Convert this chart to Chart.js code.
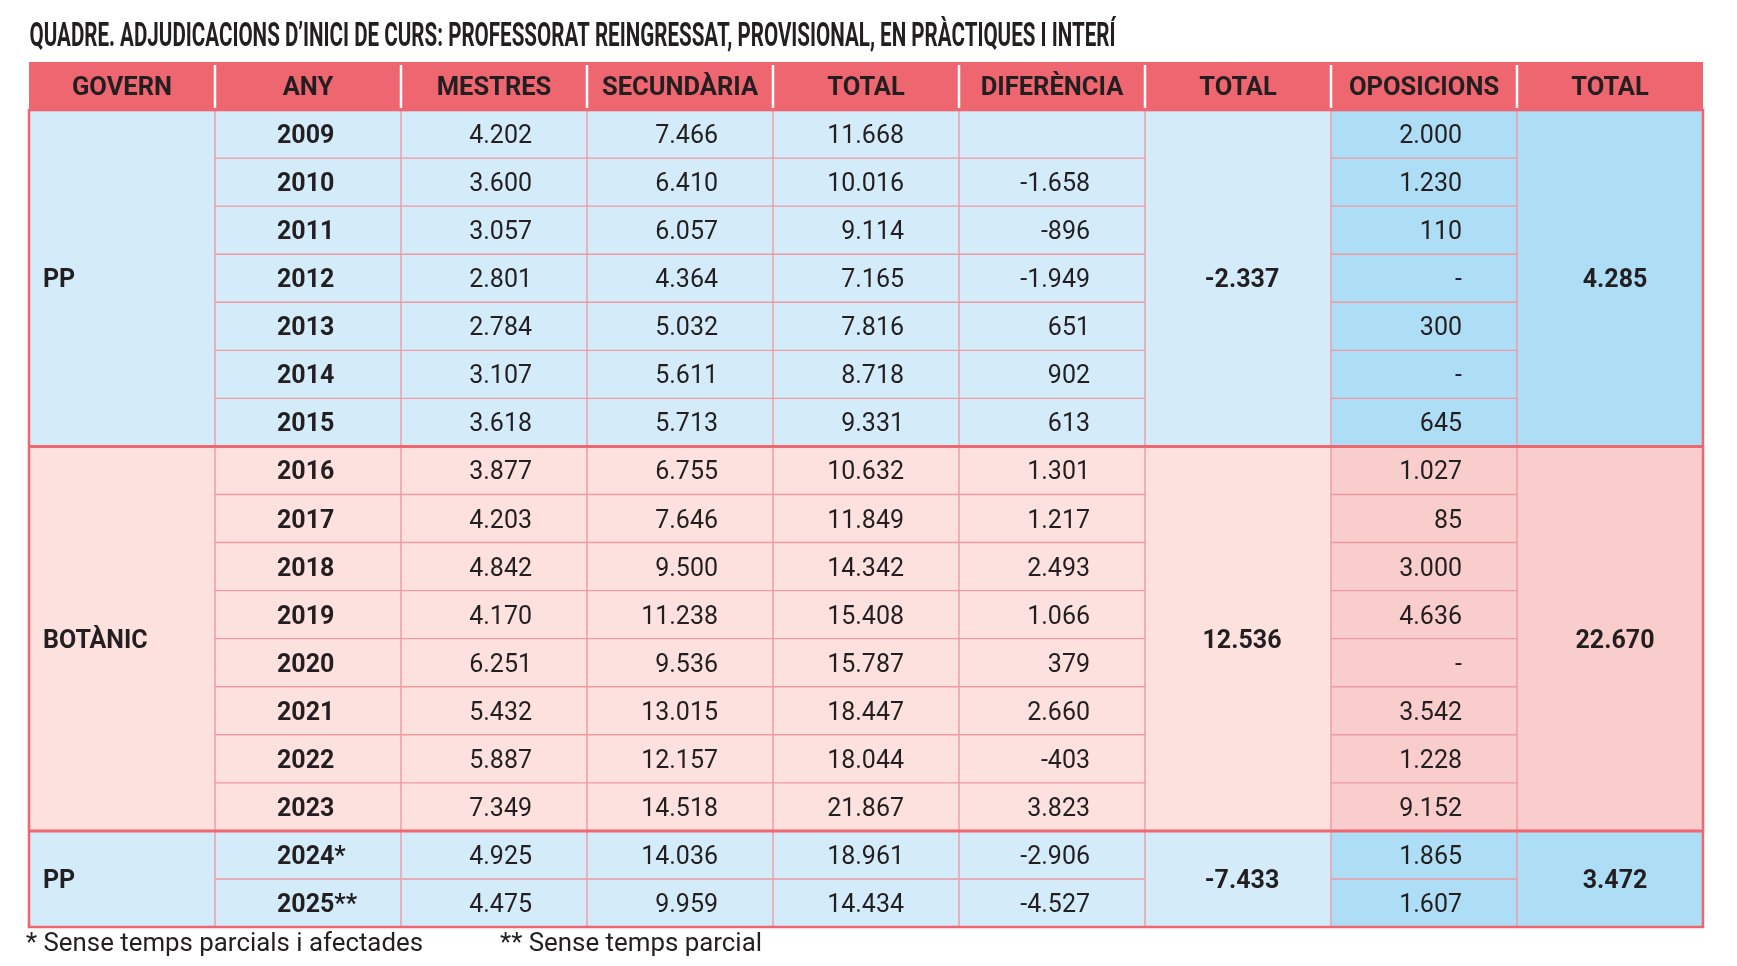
<!DOCTYPE html>
<html><head><meta charset="utf-8">
<script src="https://cdn.jsdelivr.net/npm/chart.js@4.4.1/dist/chart.umd.min.js"></script>
<style>html,body{margin:0;padding:0;background:#fff;}canvas{display:block}</style>
</head><body>
<canvas id="c" width="1737" height="966" style="width:1737px;height:966px"></canvas>
<script>
const titleText = 'QUADRE. ADJUDICACIONS D\u2019INICI DE CURS: PROFESSORAT REINGRESSAT, PROVISIONAL, EN PRÀCTIQUES I INTERÍ';
const headers = ['GOVERN','ANY','MESTRES','SECUNDÀRIA','TOTAL','DIFERÈNCIA','TOTAL','OPOSICIONS','TOTAL'];
const years = ['2009','2010','2011','2012','2013','2014','2015','2016','2017','2018','2019','2020','2021','2022','2023','2024*','2025**'];
const mestres = [4202,3600,3057,2801,2784,3107,3618,3877,4203,4842,4170,6251,5432,5887,7349,4925,4475];
const secundaria = [7466,6410,6057,4364,5032,5611,5713,6755,7646,9500,11238,9536,13015,12157,14518,14036,9959];
const totals = [11668,10016,9114,7165,7816,8718,9331,10632,11849,14342,15408,15787,18447,18044,21867,18961,14434];
const diferencia = [null,-1658,-896,-1949,651,902,613,1301,1217,2493,1066,379,2660,-403,3823,-2906,-4527];
const oposicions = [2000,1230,110,null,300,null,645,1027,85,3000,4636,null,3542,1228,9152,1865,1607];
const governs = ['PP','BOTÀNIC','PP'];
const governSpans = [7,8,2];
const governDiffTotals = [-2337,12536,-7433];
const governOposTotals = [4285,22670,3472];
const footnotes = ['* Sense temps parcials i afectades','** Sense temps parcial'];

const fmt = (v, empty) => {
  if (v === null || v === undefined) return empty;
  const s = Math.abs(v).toString().replace(/\B(?=(\d{3})+(?!\d))/g, '.');
  return (v < 0 ? '-' : '') + s;
};

const C = {
  header: '#EE6670', text: '#231F20',
  blue: '#D4EBFA', blueDark: '#AEDDF6',
  pink: '#FCE1DE', pinkDark: '#F9CDCB',
  thin: '#EE9AA2', thick: '#EE6670'
};
const groupFill = [[C.blue, C.blueDark],[C.pink, C.pinkDark],[C.blue, C.blueDark]];
const FONT = 'Roboto, "Noto Sans", sans-serif';

function fitText(ctx, txt, x, y, targetW) {
  const w = ctx.measureText(txt).width;
  const s = targetW / w;
  ctx.save(); ctx.translate(x, y); ctx.scale(s, 1); ctx.fillText(txt, 0, 0); ctx.restore();
}

const tablePlugin = {
  id: 'table',
  beforeDatasetsDraw(chart) {
    const ctx = chart.ctx;
    const xs = chart.scales.x, ys = chart.scales.y;
    const X = c => xs.getPixelForValue(c);
    const Y = r => ys.getPixelForValue(r);
    const nCols = headers.length, nRows = years.length;
    ctx.save();
    // title
    ctx.fillStyle = C.text; ctx.textAlign = 'left'; ctx.textBaseline = 'alphabetic';
    ctx.font = 'bold 32.5px ' + FONT;
    fitText(ctx, titleText, X(0) + 0.5, 45.5, 1086);
    // header
    ctx.fillStyle = C.header;
    ctx.fillRect(X(0), Y(0), X(nCols) - X(0), Y(1) - Y(0));
    ctx.fillStyle = C.text; ctx.textAlign = 'center';
    ctx.font = 'bold 25.5px ' + FONT;
    const hMid = (Y(0) + Y(1)) / 2;
    headers.forEach((h, i) => ctx.fillText(h, (X(i) + X(i + 1)) / 2, hMid + 9));
    ctx.strokeStyle = '#FFFFFF'; ctx.lineWidth = 2.5;
    for (let i = 1; i < nCols; i++) {
      ctx.beginPath(); ctx.moveTo(X(i), Y(0) + 3); ctx.lineTo(X(i), Y(1) - 2); ctx.stroke();
    }
    // groups fills
    let r0 = 1;
    const groupStarts = [];
    governSpans.forEach((span, g) => {
      groupStarts.push(r0);
      ctx.fillStyle = groupFill[g][0];
      ctx.fillRect(X(0), Y(r0), X(nCols) - X(0), Y(r0 + span) - Y(r0));
      ctx.fillStyle = groupFill[g][1];
      ctx.fillRect(X(7), Y(r0), X(9) - X(7), Y(r0 + span) - Y(r0));
      r0 += span;
    });
    // thin horizontal lines
    ctx.strokeStyle = C.thin; ctx.lineWidth = 1.4;
    governSpans.forEach((span, g) => {
      const s = groupStarts[g];
      for (let r = s + 1; r < s + span; r++) {
        ctx.beginPath(); ctx.moveTo(X(1), Y(r)); ctx.lineTo(X(6), Y(r)); ctx.stroke();
        ctx.beginPath(); ctx.moveTo(X(7), Y(r)); ctx.lineTo(X(8), Y(r)); ctx.stroke();
      }
    });
    // thin vertical lines
    for (let i = 1; i < nCols; i++) {
      ctx.beginPath(); ctx.moveTo(X(i), Y(1)); ctx.lineTo(X(i), Y(nRows + 1)); ctx.stroke();
    }
    // thick separators
    ctx.strokeStyle = C.thick; ctx.lineWidth = 3;
    groupStarts.slice(1).forEach(s => {
      ctx.beginPath(); ctx.moveTo(X(0), Y(s)); ctx.lineTo(X(nCols), Y(s)); ctx.stroke();
    });
    ctx.lineWidth = 2.5;
    ctx.strokeRect(X(0), Y(1), X(nCols) - X(0), Y(nRows + 1) - Y(1));
    // row texts
    ctx.fillStyle = C.text;
    for (let i = 0; i < nRows; i++) {
      const mid = (Y(i + 1) + Y(i + 2)) / 2 + 9;
      ctx.font = 'bold 25px ' + FONT; ctx.textAlign = 'left';
      ctx.fillText(years[i], X(1) + 62, mid);
      ctx.font = '25px ' + FONT; ctx.textAlign = 'right';
      ctx.fillText(fmt(mestres[i], ''), X(3) - 55, mid);
      ctx.fillText(fmt(secundaria[i], ''), X(4) - 55, mid);
      ctx.fillText(fmt(totals[i], ''), X(5) - 55, mid);
      ctx.fillText(fmt(diferencia[i], ''), X(6) - 55, mid);
      ctx.fillText(fmt(oposicions[i], '-'), X(8) - 55, mid);
    }
    // merged group texts
    ctx.font = 'bold 25px ' + FONT;
    governSpans.forEach((span, g) => {
      const s = groupStarts[g];
      const mid = (Y(s) + Y(s + span)) / 2 + 9;
      ctx.textAlign = 'left';
      ctx.fillText(governs[g], X(0) + 14, mid);
      ctx.textAlign = 'center';
      ctx.fillText(fmt(governDiffTotals[g], ''), (X(6) + X(7)) / 2 + 4, mid);
      ctx.fillText(fmt(governOposTotals[g], ''), (X(8) + X(9)) / 2 + 5, mid);
    });
    // footnotes
    ctx.font = '25.5px ' + FONT; ctx.textAlign = 'left';
    fitText(ctx, footnotes[0], 26, 951, 397);
    fitText(ctx, footnotes[1], 500, 951, 262);
    ctx.restore();
  }
};

new Chart(document.getElementById('c'), {
  type: 'scatter',
  data: { datasets: [{ data: [], pointRadius: 0 }] },
  options: {
    responsive: false, animation: false, devicePixelRatio: 1,
    layout: { padding: { left: 29, right: 34, top: 62, bottom: 39 } },
    plugins: { legend: { display: false }, tooltip: { enabled: false }, title: { display: false } },
    scales: {
      x: { type: 'linear', min: 0, max: headers.length, display: false },
      y: { type: 'linear', min: 0, max: years.length + 1, reverse: true, display: false }
    }
  },
  plugins: [tablePlugin]
});
</script>
</body></html>
